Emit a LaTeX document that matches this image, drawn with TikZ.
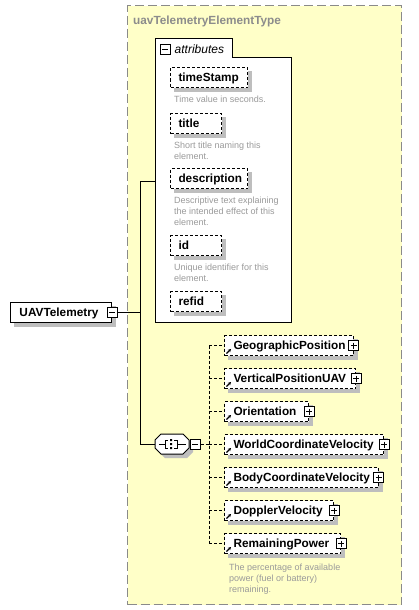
\documentclass[tikz,border=0pt]{standalone}
\usepackage{fontspec}
\setmainfont{Liberation Sans}
\usetikzlibrary{positioning,arrows.meta}
\definecolor{TypeFillClr}{HTML}{FFFFC8}
\definecolor{TypeLineClr}{HTML}{8A8A8A}
\definecolor{TitleClr}{HTML}{8C8C8C}
\definecolor{DocClr}{HTML}{9A9A9A}
\definecolor{ShadowClr}{HTML}{BEBEBE}
\pgfdeclarelayer{back}
\pgfdeclarelayer{shade}
\pgfsetlayers{back,shade,main}
% grey drop shadow under a box node
\newcommand\shadeof[1]{\begin{pgfonlayer}{shade}
  \fill[ShadowClr] ([xshift=4pt,yshift=-4pt]#1.north west) rectangle ([xshift=4pt,yshift=-4pt]#1.south east);
\end{pgfonlayer}}

\begin{document}
\begin{tikzpicture}[x=1pt,y=-1pt,
  elem/.style={draw,fill=white,line width=1pt,anchor=north west,inner sep=0pt,
    minimum height=20pt,text height=8.6pt,text depth=0pt,align=left,
    font=\fontsize{11.8}{13}\selectfont\bfseries},
  optelem/.style={elem,dash pattern=on 3pt off 2pt},
  doc/.style={inner sep=0pt,align=left,text=DocClr,font=\fontsize{9}{11}\selectfont},
  expbox/.style={draw,solid,fill=white,line width=0.8pt,minimum size=10pt,inner sep=0pt},
  expminus/.style={expbox,path picture={
    \draw[line width=0.8pt] ([xshift=2pt]path picture bounding box.west) -- ([xshift=-2pt]path picture bounding box.east);}},
  expplus/.style={expbox,path picture={
    \draw[line width=0.8pt] ([xshift=2pt]path picture bounding box.west) -- ([xshift=-2pt]path picture bounding box.east);
    \draw[line width=0.8pt] ([yshift=-2pt]path picture bounding box.north) -- ([yshift=2pt]path picture bounding box.south);}},
  conn/.style={line width=1pt},
  optconn/.style={line width=1pt,dash pattern=on 3pt off 2pt},
  refarrow/.style={solid,line width=1.1pt,-{Stealth[length=3pt,width=3.2pt]}}]

\useasboundingbox (0,0) rectangle (418,610);

% complex type frame and attribute group
\begin{pgfonlayer}{back}
\node[draw=TypeLineClr,fill=TypeFillClr,line width=1.2pt,dash pattern=on 9pt off 4pt,
  anchor=north west,minimum width=274pt,minimum height=599pt,inner sep=0pt] (typebox) at (127,5) {};
\draw[fill=white,line width=1pt] (155,322) |- (232,39) |- (291,58) -- (291,322) -- cycle;
\end{pgfonlayer}
\node[anchor=west,inner sep=0pt,text=TitleClr,font=\fontsize{11.8}{13}\selectfont\bfseries]
  (typettl) at (133,21) {uavTelemetryElementType};

\node[expminus] (attrx) at (165,49.5) {};
\node[anchor=base west,inner sep=0pt,font=\fontsize{12}{14}\selectfont\itshape] (attrlbl) at (174.5,54) {attributes};
\coordinate (attrs) at (155,181);

\node[optelem,minimum width=77pt,text width=61pt] (ts) at (170,67) {timeStamp};
\node[doc,below=8pt of ts.south west,anchor=north west,xshift=4pt] (tsdoc) {Time value in seconds.};
\node[optelem,minimum width=51pt,text width=35pt] (ttl) at (170,113) {title};
\node[doc,below=7.5pt of ttl.south west,anchor=north west,xshift=4pt] (ttldoc) {Short title naming this\\element.};
\node[optelem,minimum width=77pt,text width=61pt] (dsc) at (170,168) {description};
\node[doc,below=8pt of dsc.south west,anchor=north west,xshift=4pt] (dscdoc)
  {Descriptive text explaining\\the intended effect of this\\element.};
\node[optelem,minimum width=51pt,text width=35pt] (ident) at (170,235) {id};
\node[doc,below=8pt of ident.south west,anchor=north west,xshift=4pt] (identdoc) {Unique identifier for this\\element.};
\node[optelem,minimum width=51pt,text width=35pt] (refid) at (170,291) {refid};
\shadeof{ts}\shadeof{ttl}\shadeof{dsc}\shadeof{ident}\shadeof{refid}

% root element
\node[elem,minimum width=101pt,text width=83pt] (uav) at (10,302) {UAVTelemetry};
\node[expminus] (uavx) at (uav.east) {};
\shadeof{uav}

% sequence
\node[minimum width=34pt,minimum height=20pt,inner sep=0pt] (seq) at (172,444) {};
\begin{pgfonlayer}{shade}
\fill[ShadowClr,shift={([xshift=4pt,yshift=-4pt]seq.center)}]
  (-11,-10) -- (11,-10) -- (17,-4) -- (17,4) -- (11,10) -- (-11,10) -- (-17,4) -- (-17,-4) -- cycle;
\end{pgfonlayer}
\begin{scope}[shift={(seq.center)},line width=0.8pt]
  \draw[fill=white,line width=1pt]
    (-11,-10) -- (11,-10) -- (17,-4) -- (17,4) -- (11,10) -- (-11,10) -- (-17,4) -- (-17,-4) -- cycle;
  \draw (-13,0) -- (-7,0) (-4,-4) -- (-7,-4) -- (-7,4) -- (-4,4);
  \draw (5,0) -- (14,0) (2,-4) -- (5,-4) -- (5,4) -- (2,4);
  \fill (-2,-5) rectangle (0,-3) (-2,-1) rectangle (0,1) (-2,3) rectangle (0,5);
\end{scope}
\node[expminus] (seqx) at ([xshift=6pt]seq.east) {};

\coordinate (trunk) at (140,181);
\coordinate (spine) at (209,444);

\draw[conn] (uavx.east) -- (trunk |- uavx.east);
\draw[conn] (attrs) -- (trunk) |- (seq.west);
\draw[optconn] (seqx.east) -- (spine);

% child elements
\foreach \nm/\txt/\bw/\ty in {geo/GeographicPosition/128.5/335,
    vpos/VerticalPositionUAV/131/368,
    orient/Orientation/84/401,
    wvel/WorldCoordinateVelocity/159/434,
    bvel/BodyCoordinateVelocity/153.5/467,
    dvel/DopplerVelocity/109/500,
    power/RemainingPower/116/533}{
  \pgfmathsetmacro\tw{\bw-18}
  \node[optelem,minimum width=\bw pt,text width=\tw pt] (\nm) at (224,\ty) {\txt};
  \shadeof{\nm}
  \node[expplus] (\nm-x) at (\nm.east) {};
  \draw[refarrow] ([xshift=2.5pt,yshift=2.5pt]\nm.south west) -- ++(4.5pt,4.5pt);
  \draw[optconn] (spine |- \nm.west) -- (\nm.west);
}
\draw[optconn] (spine |- geo.west) -- (spine |- power.west);

\node[doc,below=9.5pt of power.south west,anchor=north west,xshift=5pt] (powerdoc)
  {The percentage of available\\power (fuel or battery)\\remaining.};

\end{tikzpicture}
\end{document}
